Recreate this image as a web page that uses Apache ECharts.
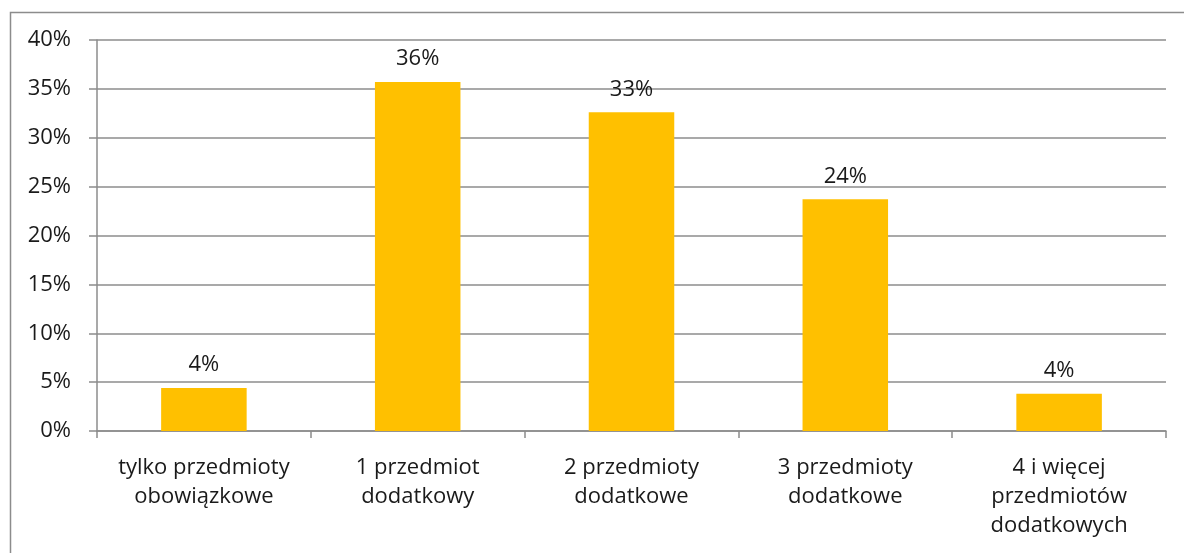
<!DOCTYPE html>
<html>
<head>
<meta charset="utf-8">
<script src="https://cdn.jsdelivr.net/npm/echarts@6/dist/echarts.min.js"></script>
<style>
  html, body { margin: 0; padding: 0; background: #fff; }
  #chart { width: 1184px; height: 553px; }
</style>
</head>
<body>
<div id="chart"></div>
<script>
const categories = [
  "tylko przedmioty\nobowiązkowe",
  "1 przedmiot\ndodatkowy",
  "2 przedmioty\ndodatkowe",
  "3 przedmioty\ndodatkowe",
  "4 i więcej\nprzedmiotów\ndodatkowych"
];
const values = [4.4, 35.7, 32.6, 23.7, 3.8];
const yTicks = [0, 5, 10, 15, 20, 25, 30, 35, 40];

let myChart = echarts.init(document.getElementById("chart"), null, { renderer: "canvas" });

let fontFamily = "'Open Sans', 'Noto Sans', sans-serif";

myChart.setOption({
  animation: false,
  textStyle: { fontFamily: fontFamily },
  graphic: [{
    type: "rect",
    left: 8,
    top: 10,
    shape: { width: 1200, height: 600 },
    style: { fill: null, stroke: "#8c8c8c", lineWidth: 1.5 },
    silent: true
  }],
  grid: { left: 97, right: 18, top: 40, bottom: 122, containLabel: false },
  xAxis: {
    type: "category",
    data: categories,
    axisLine: { lineStyle: { color: "#8c8c8c", width: 1.5 } },
    axisTick: { show: true, length: 7, lineStyle: { color: "#8c8c8c", width: 1.5 } },
    axisLabel: {
      color: "#1a1a1a",
      fontSize: 22,
      lineHeight: 29,
      margin: 22,
      interval: 0,
      fontFamily: fontFamily
    }
  },
  yAxis: {
    type: "value",
    min: yTicks[0],
    max: yTicks[yTicks.length - 1],
    interval: 5,
    axisLine: { show: true, lineStyle: { color: "#8c8c8c", width: 1.5 } },
    axisTick: { show: true, length: 8, lineStyle: { color: "#8c8c8c", width: 1.5 } },
    splitLine: { lineStyle: { color: "#8c8c8c", width: 1.5 } },
    axisLabel: {
      color: "#1a1a1a",
      fontSize: 22,
      margin: 26,
      formatter: function (v) { return v + "%"; },
      fontFamily: fontFamily
    }
  },
  series: [{
    type: "bar",
    data: values,
    barWidth: "40%",
    itemStyle: { color: "#FFC000" },
    label: {
      show: true,
      position: "top",
      distance: 12,
      color: "#1a1a1a",
      fontSize: 22,
      fontFamily: fontFamily,
      formatter: function (p) { return Math.round(p.value) + "%"; }
    }
  }]
});
</script>
</body>
</html>
